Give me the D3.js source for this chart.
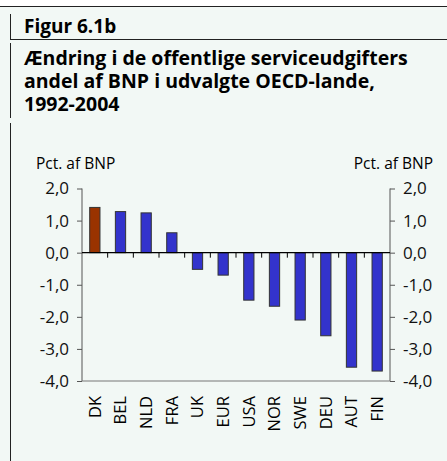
<!DOCTYPE html>
<html>
<head>
<meta charset="utf-8">
<script src="https://cdn.jsdelivr.net/npm/d3@7"></script>
<style>
  body { margin: 0; background: #ffffff; }
  svg { display: block; font-family: "Open Sans", "Noto Sans", sans-serif; }
</style>
</head>
<body>
<svg id="chart" width="447" height="461"></svg>
<script>
// data
let countries = ["DK", "BEL", "NLD", "FRA", "UK", "EUR", "USA", "NOR", "SWE", "DEU", "AUT", "FIN"];
let values = [1.41, 1.28, 1.24, 0.62, -0.52, -0.70, -1.48, -1.67, -2.10, -2.59, -3.57, -3.69];
let yTicks = [2, 1, 0, -1, -2, -3, -4];
let highlight = "DK";

let svg = d3.select("#chart");

// panel background and frame
svg.append("rect")
    .attr("x", 0).attr("y", 6)
    .attr("width", 447).attr("height", 455)
    .attr("fill", "#f2f8f5");

svg.append("line")
    .attr("x1", 0).attr("x2", 447).attr("y1", 6.5).attr("y2", 6.5)
    .attr("stroke", "#222").attr("stroke-width", 1);
svg.append("line")
    .attr("x1", 10).attr("x2", 447).attr("y1", 39.5).attr("y2", 39.5)
    .attr("stroke", "#222").attr("stroke-width", 1);
svg.append("line")
    .attr("x1", 10.5).attr("x2", 10.5).attr("y1", 14).attr("y2", 39)
    .attr("stroke", "#222").attr("stroke-width", 1);
svg.append("line")
    .attr("x1", 10.5).attr("x2", 10.5).attr("y1", 43).attr("y2", 118)
    .attr("stroke", "#222").attr("stroke-width", 1);
svg.append("line")
    .attr("x1", 10.5).attr("x2", 10.5).attr("y1", 123).attr("y2", 461)
    .attr("stroke", "#222").attr("stroke-width", 1);

// titles
svg.append("text")
    .attr("x", 24).attr("y", 33)
    .style("font-size", "19px").style("font-weight", "bold")
    .text("Figur 6.1b");

let titleLines = ["Ændring i de offentlige serviceudgifter\u0073", "andel af BNP i udvalgte OECD-lande,", "1992-2004"];
svg.append("g").selectAll("text").data(titleLines).enter()
    .append("text")
    .attr("x", 24)
    .attr("y", (d, i) => 64.5 + i * 23)
    .style("font-size", "19.5px").style("font-weight", "bold")
    .text(d => d);

// scales
let x = d3.scaleBand()
    .domain(countries)
    .range([82, 390])
    .paddingInner(0.6)
    .paddingOuter(0.3);

let y = d3.scaleLinear()
    .domain([-4, 2])
    .range([381, 188.5]);

let fmt = d => d3.format(".1f")(d).replace(".", ",").replace("\u2212", "-");

// axes
let leftAxis = svg.append("g")
    .attr("transform", "translate(82,0)")
    .call(d3.axisLeft(y).tickValues(yTicks).tickSize(5).tickPadding(8).tickFormat(fmt));
let rightAxis = svg.append("g")
    .attr("transform", "translate(390,0)")
    .call(d3.axisRight(y).tickValues(yTicks).tickSize(5).tickPadding(8).tickFormat(fmt));

[leftAxis, rightAxis].forEach(a => {
    a.select(".domain").remove();
    a.selectAll(".tick line").attr("stroke", "#555");
    a.selectAll(".tick text")
        .style("font-size", "17px")
        .style("font-family", "'Open Sans', sans-serif")
        .attr("fill", "#111");
    a.append("line").attr("y1", y(2)).attr("y2", y(-4)).attr("stroke", "#555");
});

// bottom frame line
svg.append("line")
    .attr("x1", 82).attr("x2", 390)
    .attr("y1", y(-4)).attr("y2", y(-4))
    .attr("stroke", "#777");

// axis titles
svg.append("text")
    .attr("x", 36).attr("y", 169)
    .style("font-size", "15.5px")
    .text("Pct. af BNP");
svg.append("text")
    .attr("x", 433).attr("y", 169)
    .attr("text-anchor", "end")
    .style("font-size", "15.5px")
    .text("Pct. af BNP");

// bars
svg.append("g").selectAll("rect").data(countries).enter()
    .append("rect")
    .attr("x", d => x(d))
    .attr("width", x.bandwidth())
    .attr("y", (d, i) => Math.min(y(values[i]), y(0)))
    .attr("height", (d, i) => Math.abs(y(values[i]) - y(0)))
    .attr("fill", d => d === highlight ? "#993300" : "#3333cc")
    .attr("stroke", "#333")
    .attr("stroke-width", 1);

// zero line with category separators
svg.append("line")
    .attr("x1", 82).attr("x2", 390)
    .attr("y1", y(0)).attr("y2", y(0))
    .attr("stroke", "#000").attr("stroke-width", 1.2);

svg.append("g").selectAll("line").data(countries.slice(1)).enter()
    .append("line")
    .attr("x1", d => x(d) - x.bandwidth() * 0.75)
    .attr("x2", d => x(d) - x.bandwidth() * 0.75)
    .attr("y1", y(0)).attr("y2", y(0) + 5)
    .attr("stroke", "#000");

// category labels
svg.append("g").selectAll("text").data(countries).enter()
    .append("text")
    .attr("transform", d => `translate(${x(d) + x.bandwidth() / 2}, 396) rotate(-90)`)
    .attr("text-anchor", "end")
    .attr("dy", "0.36em")
    .style("font-size", "16.5px")
    .text(d => d);
</script>
</body>
</html>
